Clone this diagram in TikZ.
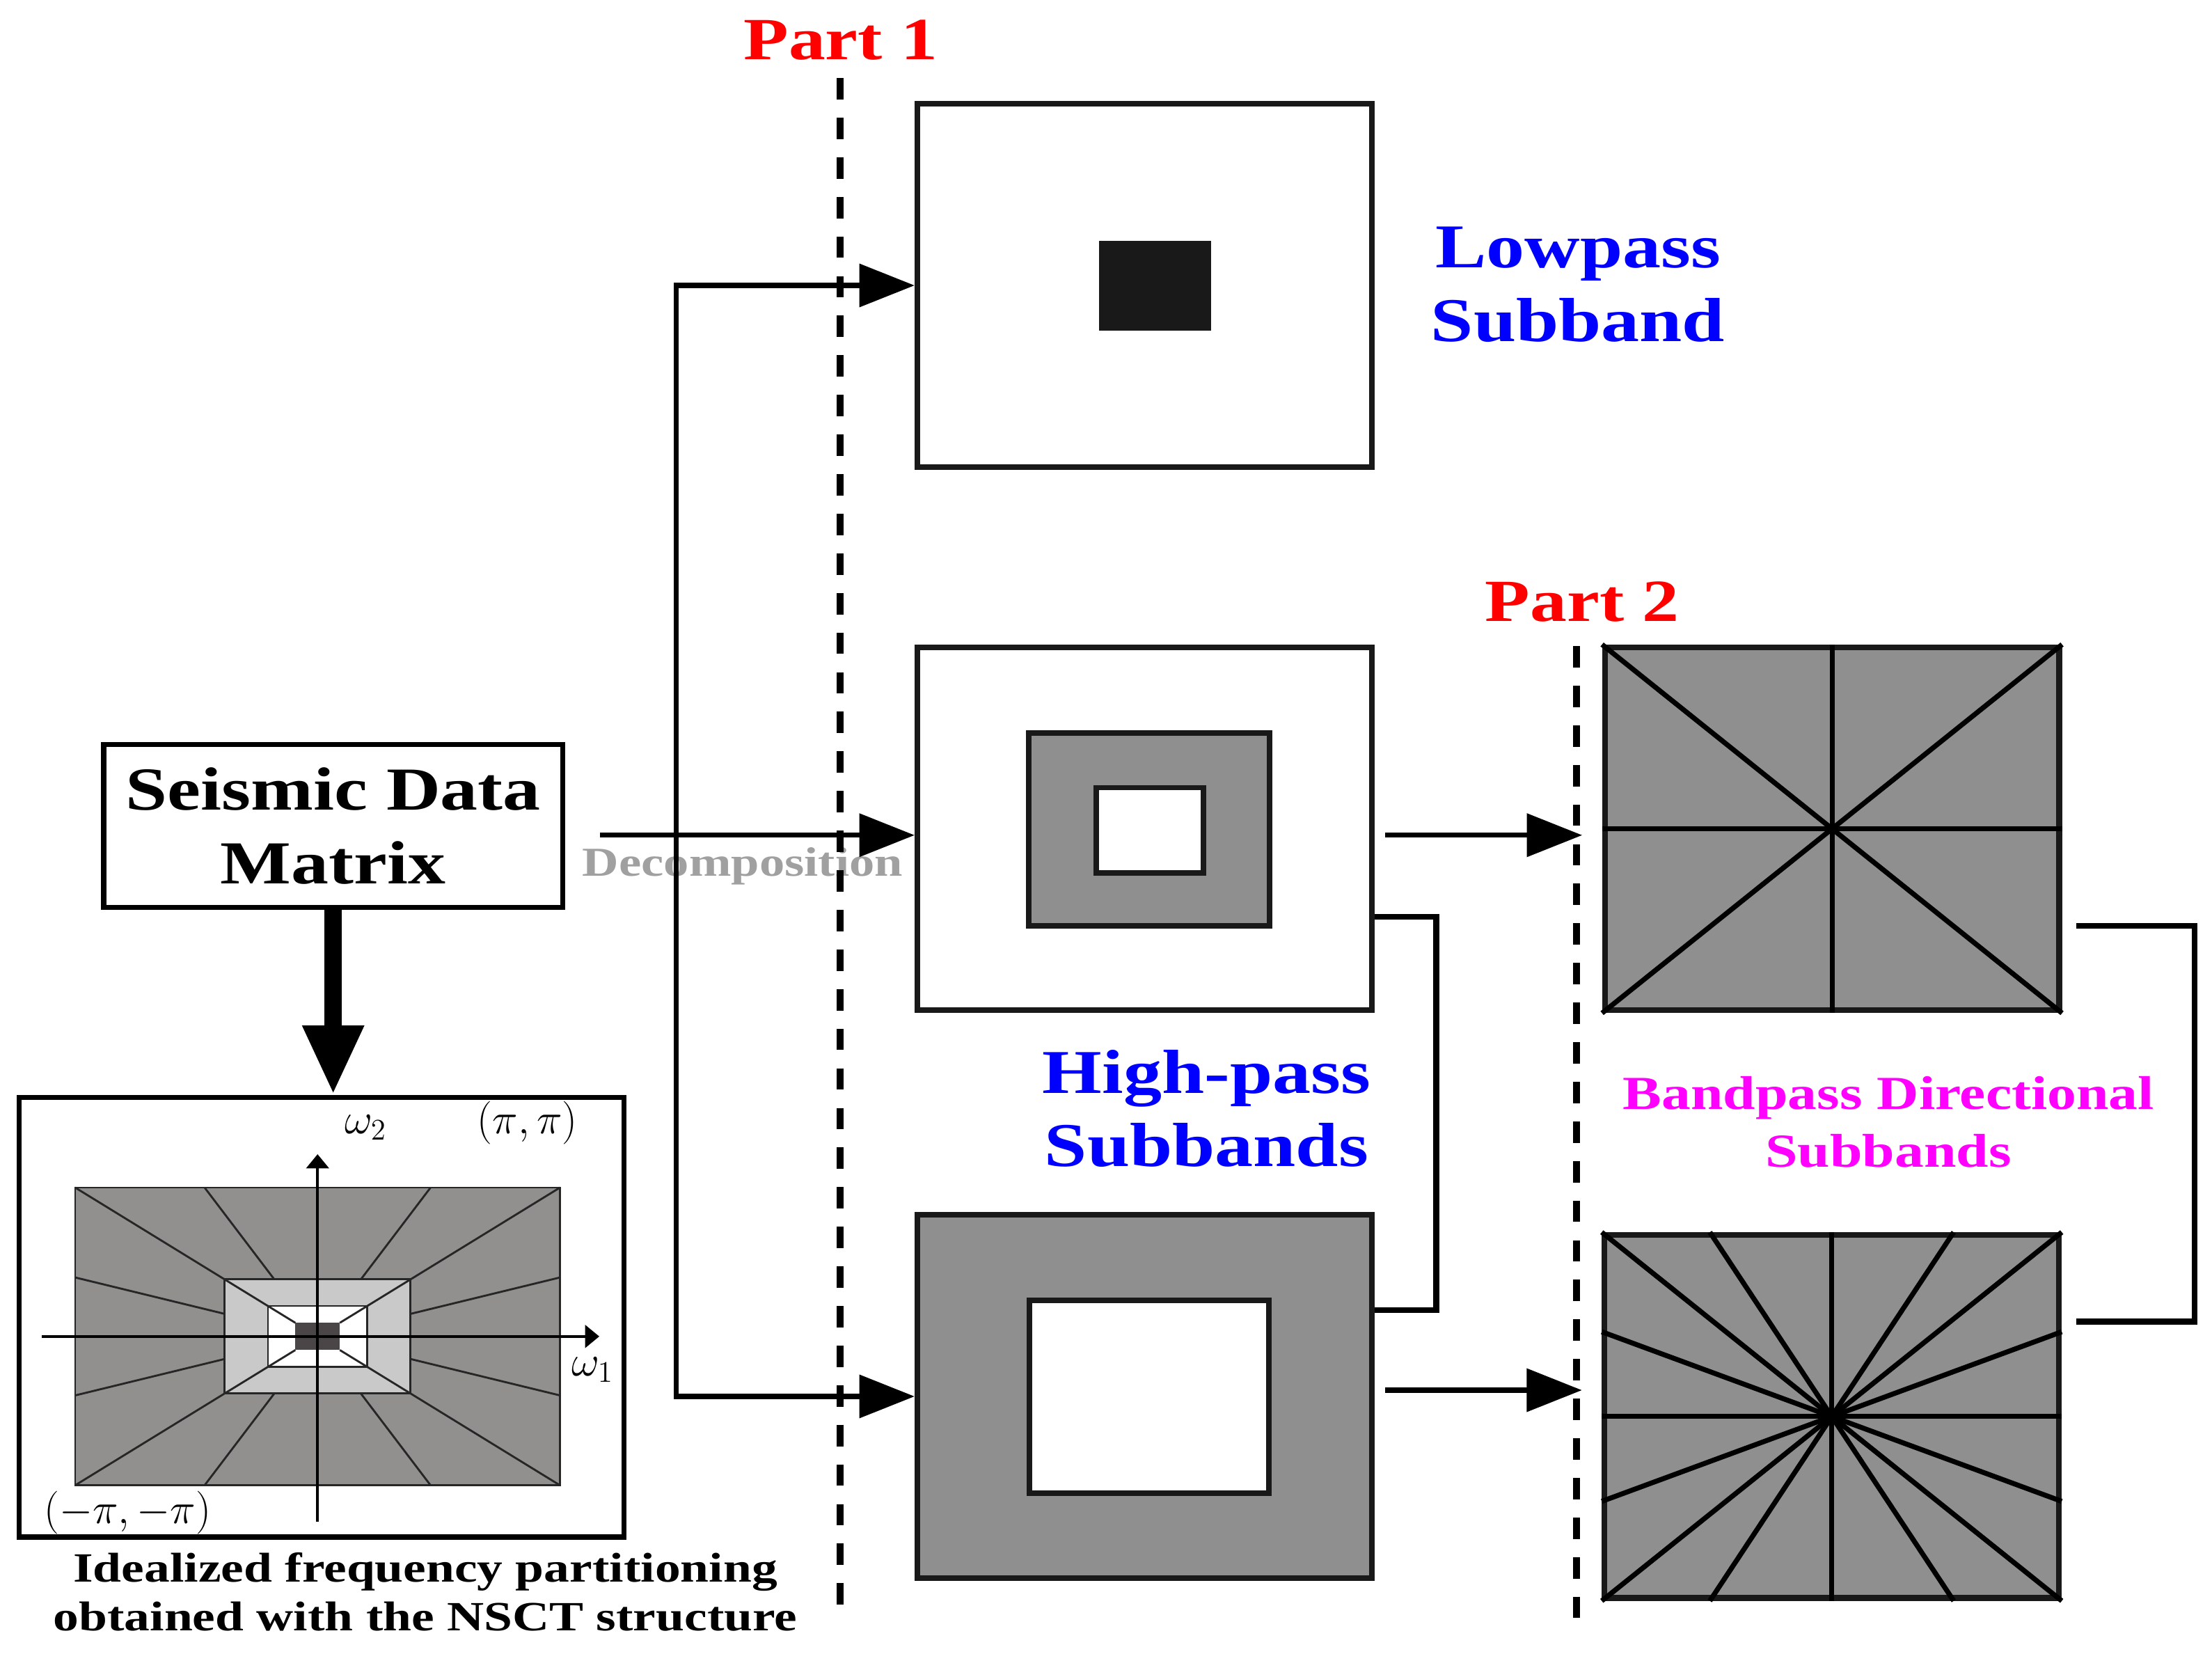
\documentclass[tikz,border=0pt]{standalone}
\usepackage{fontspec}
\setmainfont{Liberation Serif}[FakeStretch=1.23]
\usetikzlibrary{arrows, arrows.meta, positioning, calc}
\definecolor{bandgray}{HTML}{8F8F8F}
\definecolor{freqgray}{HTML}{928F8F}
\definecolor{freqlight}{HTML}{C9C9C9}
\definecolor{freqdark}{HTML}{4A4546}
\definecolor{decgray}{HTML}{A0A0A0}
\definecolor{partred}{RGB}{255,0,0}
\definecolor{bandblue}{RGB}{0,0,255}
\definecolor{dirpink}{RGB}{255,0,255}

\begin{document}
\begin{tikzpicture}
  [x=0.02cm, y=-0.02cm,
   >={Triangle[length=0.78cm, width=0.6cm]},
   band/.style={draw=black!90, line width=2.3pt, minimum width=6.41cm, minimum height=5.12cm, inner sep=0pt},
   ring/.style={draw=black!90, line width=2.2pt, inner sep=0pt},
   flow/.style={line width=2pt},
   link/.style={line width=2.3pt},
   ray/.style={line width=2pt},
   fan/.style={line width=0.8pt, draw=black!85},
   freqaxis/.style={line width=1pt, -{Triangle[length=0.2cm, width=0.32cm]}},
   bigarrow/.style={line width=7pt, -{Triangle[length=0.98cm, width=0.8cm]}},
   divider/.style={line width=2.8pt, dash pattern=on 8.6pt off 7.3pt},
   partname/.style={text=partred, font=\fontsize{24}{28}\selectfont\bfseries, anchor=base},
   bandname/.style={text=bandblue, font=\fontsize{25}{29.6}\selectfont\bfseries, align=center},
   dirname/.style={text=dirpink, font=\fontsize{19}{23}\selectfont\bfseries, align=center},
   mathname/.style={font=\fontsize{17}{20}\selectfont, inner sep=0pt}]
  \useasboundingbox (0,0) rectangle (1560.2,1166);

  % input and its frequency plane
  \node (seismic) at (235, 582.5) [draw, line width=2.1pt, minimum width=6.48cm, minimum height=2.3cm,
    align=center, font=\fontsize{24.5}{29.8}\selectfont\bfseries] {Seismic Data\\Matrix};
  \node (freq) at (226.8, 929) [draw, line width=2.1pt, minimum width=8.53cm, minimum height=6.2cm] {};
  \begin{scope}[shift={(224, 942.5)}]
    \filldraw [fill=freqgray, fan] (-171,-105) rectangle (171,105);
    \foreach \sx in {-1, 1}
      \foreach \sy in {-1, 1}{
        \draw [fan] (\sx*30.5, \sy*40.2) -- (\sx*79.7, \sy*105);
        \draw [fan] (\sx*65.5, \sy*15.9) -- (\sx*171, \sy*41.6);
      }
    \filldraw [fill=freqlight, fan] (-65.5,-40.2) rectangle (65.5,40.2);
    \filldraw [fill=white, fan] (-35,-21.5) rectangle (35,21.5);
    \foreach \sx in {-1, 1}
      \foreach \sy in {-1, 1}
        \draw [fan] (\sx*171, \sy*105) -- (\sx*15.7, \sy*9.6);
    \fill [freqdark] (-15.7,-9.6) rectangle (15.7,9.6);
    \draw [freqaxis] (-194.3, 0) -- (198.7, 0);
    \draw [freqaxis] (0, 130.5) -- (0, -128.5);
  \end{scope}
  \node (w2) at (258, 795) [mathname] {$\omega_2$};
  \node (pipi) at (372, 792) [mathname] {$(\pi,\pi)$};
  \node (w1) at (418, 966) [mathname] {$\omega_1$};
  \node (mpimpi) at (90, 1067) [mathname] {$(-\pi,-\pi)$};
  \node (caption) at (300, 1122.7) [align=center, font=\fontsize{16.7}{19.35}\selectfont\bfseries]
    {Idealized frequency partitioning\\obtained with the NSCT structure};
  \draw [bigarrow] (seismic.south) -- (seismic.south |- freq.north);

  % part 1: lowpass and high-pass subbands
  \node (low) at (807.3, 201.3) [band, fill=white] {};
  \node (lowcore) at (814.5, 201.5) [fill=black!90, minimum width=1.58cm, minimum height=1.26cm, inner sep=0pt] {};
  \node (high1) at (807.3, 584.5) [band, fill=white] {};
  \node (h1ring) at (810.5, 585) [ring, fill=bandgray, minimum width=3.4cm, minimum height=2.72cm] {};
  \node (h1hole) at (811, 585.5) [ring, fill=white, minimum width=1.52cm, minimum height=1.2cm] {};
  \node (high2) at (807.3, 984.8) [band, fill=bandgray] {};
  \node (h2hole) at (810.4, 985) [ring, fill=white, minimum width=3.38cm, minimum height=2.72cm] {};

  % part 2: directional subbands
  \node (dir1) at (1292.2, 584.5) [band, fill=bandgray] {};
  \draw [ray] (dir1.north) -- (dir1.south);
  \draw [ray] (dir1.west) -- (dir1.east);
  \draw [ray] (dir1.north west) -- (dir1.south east);
  \draw [ray] (dir1.north east) -- (dir1.south west);
  \node (dir2) at (1292, 999) [band, fill=bandgray] {};
  \draw [ray] (dir2.north) -- (dir2.south);
  \draw [ray] (dir2.west) -- (dir2.east);
  \draw [ray] (dir2.north west) -- (dir2.south east);
  \draw [ray] (dir2.north east) -- (dir2.south west);
  \foreach \f in {0.235, 0.765}
    \draw [ray] ($(dir2.north west)!\f!(dir2.north east)$) -- ($(dir2.south east)!\f!(dir2.south west)$);
  \foreach \f in {0.27, 0.73}
    \draw [ray] ($(dir2.north west)!\f!(dir2.south west)$) -- ($(dir2.south east)!\f!(dir2.north east)$);

  % labels
  \node (part1) at (593, 42) [partname] {Part 1};
  \node (part2) at (1116, 438) [partname] {Part 2};
  \node (lowname) at (1113, 200.9) [bandname] {Lowpass\\Subband};
  \node (highname) at (851, 781.8) [bandname] {High-pass\\Subbands};
  \node (dirname) at (1332, 791.3) [dirname] {Bandpass Directional\\Subbands};
  \node (decomp) at (523.8, 617.6) [anchor=base, text=decgray, font=\fontsize{16.5}{19}\selectfont\bfseries] {Decomposition};

  % connectors
  \coordinate (decstart) at (423, 589);
  \coordinate (fork) at (477, 589);
  \draw [flow, ->] (decstart) -- (decstart -| high1.west);
  \draw [flow, ->] (fork) |- (low.west);
  \draw [flow, ->] (fork) |- (high2.west);
  \coordinate (h1out) at (977, 589);
  \coordinate (h2out) at (977, 980.4);
  \draw [flow, ->, shorten >=0.28cm] (h1out) -- (h1out -| dir1.west);
  \draw [flow, ->, shorten >=0.28cm] (h2out) -- (h2out -| dir2.west);
  \draw [link] ([yshift=-1.24cm]high1.east) -- ++(0.87cm, 0) |- ([yshift=1.22cm]high2.east);
  \draw [link] ([xshift=0.2cm, yshift=-1.37cm]dir1.east) -- ++(1.67cm, 0) |- ([xshift=0.2cm, yshift=1.34cm]dir2.east);
  \draw [divider] (592.5, 55) -- (592.5, 1141);
  \draw [divider] (1112, 455.6) -- (1112, 1146);
\end{tikzpicture}
\end{document}
